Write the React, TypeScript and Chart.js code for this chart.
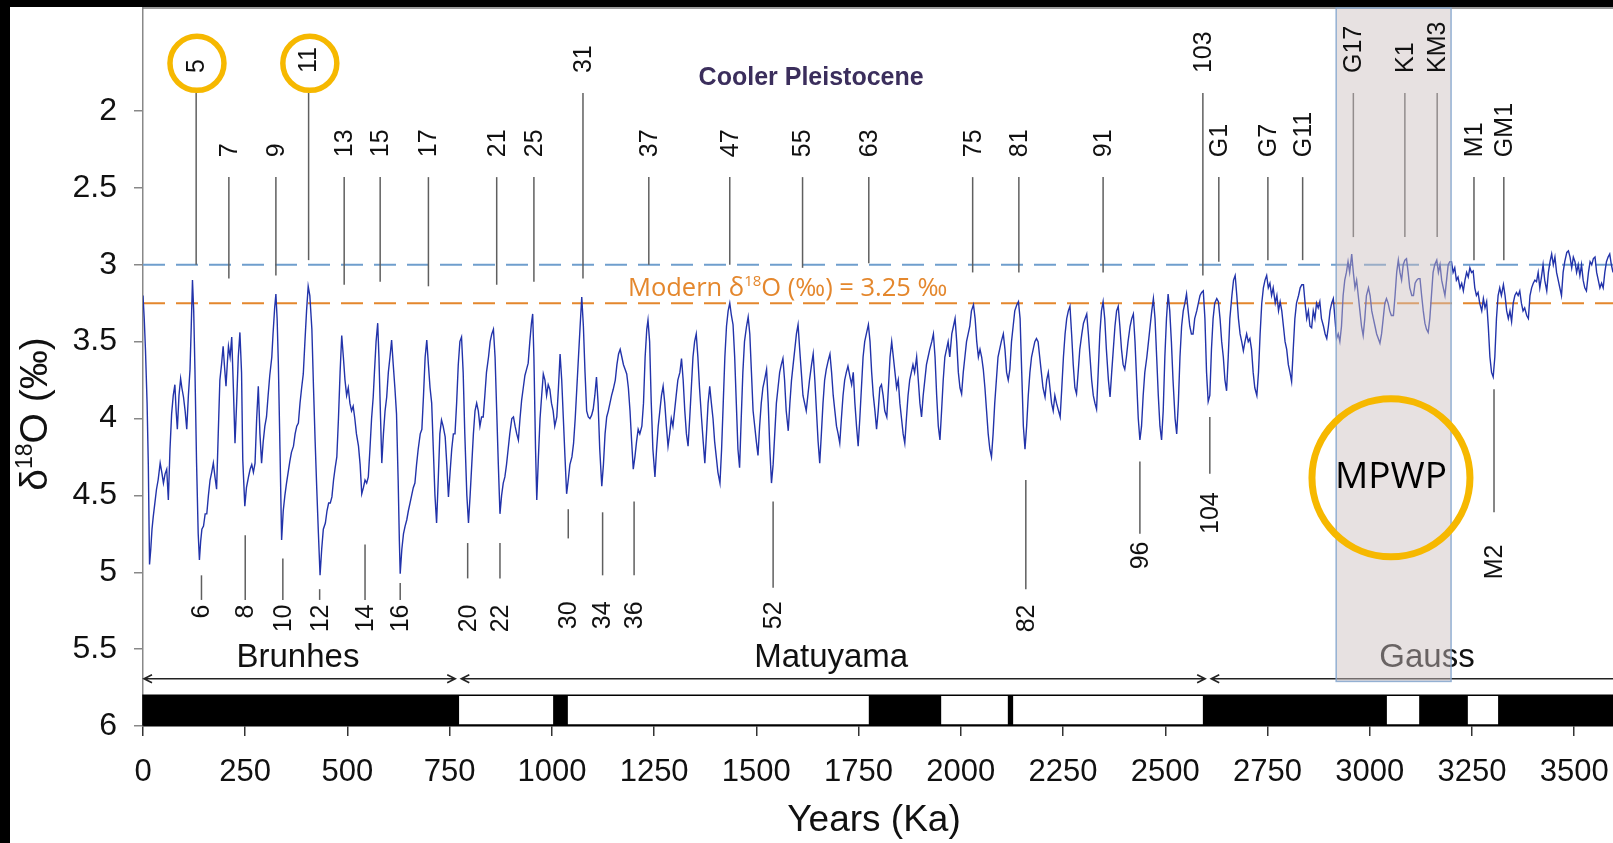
import React, { useEffect, useRef } from 'react';
import { Chart, registerables } from 'chart.js';

Chart.register(...registerables);

const FONT = "'Liberation Sans', Arial, Helvetica, sans-serif";
const FONT_C = "'Open Sans', Lato, 'Liberation Sans', sans-serif";

const xTickValues = [0, 250, 500, 750, 1000, 1250, 1500, 1750, 2000, 2250, 2500, 2750, 3000, 3250, 3500];
const yTickValues = [2, 2.5, 3, 3.5, 4, 4.5, 5, 5.5, 6];
const X_MAX = 3595;
const Y_TOP = 1.33;
const Y_BOTTOM = 6.0;

// Benthic δ18O stack, [age ka, value ‰]
const brunhesSeries: [number, number][] = [
  [0,3.2],[3,3.35],[6,3.55],[10,3.9],[13,4.3],[16,4.95],[19,4.85],[22,4.72],[25,4.64],[29,4.55],[33,4.46],[37,4.4],[42,4.29],[46,4.35],[50,4.42],[54,4.36],[58,4.33],[62,4.53],[66,4.2],[70,3.97],[74,3.85],[78,3.78],[81,3.95],[84,4.07],[88,3.85],[92,3.74],[95,3.8],[99,3.86],[103,3.95],[107,4.07],[111,3.85],[115,3.68],[118,3.4],[121,3.1],[124,3.3],[127,3.68],[131,4.29],[135,4.75],[138,4.92],[141,4.8],[144,4.72],[148,4.7],[152,4.62],[156,4.62],[160,4.5],[164,4.4],[168,4.35],[172,4.29],[176,4.38],[180,4.46],[184,4.1],[188,3.75],[192,3.65],[196,3.53],[199,3.65],[203,3.79],[206,3.65],[209,3.53],[213,3.6],[217,3.47],[221,3.8],[225,4.16],[229,3.9],[233,3.6],[237,3.44],[241,3.7],[244,4.27],[249,4.57],[253,4.45],[258,4.38],[262,4.33],[266,4.3],[270,4.35],[274,4.29],[278,4.0],[282,3.79],[286,4.1],[290,4.29],[294,4.15],[298,4.05],[302,3.99],[306,3.85],[310,3.72],[315,3.6],[318,3.45],[322,3.28],[325,3.19],[328,3.35],[331,3.64],[335,4.2],[339,4.79],[343,4.6],[347,4.5],[351,4.42],[355,4.35],[359,4.28],[363,4.22],[368,4.18],[372,4.1],[376,4.05],[380,4.03],[384,3.9],[388,3.8],[392,3.71],[396,3.5],[400,3.3],[404,3.14],[408,3.2],[413,3.42],[417,3.8],[421,4.15],[425,4.46],[429,4.75],[433,5.02],[437,4.85],[441,4.72],[446,4.68],[450,4.6],[454,4.55],[458,4.55],[462,4.51],[466,4.4],[470,4.32],[474,4.25],[478,4.0],[482,3.7],[486,3.46],[490,3.6],[494,3.75],[498,3.85],[502,3.8],[506,3.9],[510,3.95],[514,3.92],[518,4.0],[522,4.1],[527,4.18],[531,4.3],[535,4.49],[539,4.45],[543,4.4],[547,4.42],[551,4.38],[555,4.2],[559,4.0],[563,3.86],[566,3.7],[570,3.5],[574,3.38],[577,3.6],[581,4.0],[584,4.29],[588,4.1],[592,3.95],[596,3.86],[600,3.7],[604,3.6],[608,3.49],[612,3.65],[616,3.8],[620,3.97],[624,4.4],[627,4.8],[629,5.01],[633,4.85],[637,4.75],[641,4.7],[645,4.66],[649,4.6],[653,4.55],[657,4.5],[661,4.45],[665,4.42],[669,4.3],[673,4.2],[678,4.1],[682,4.07],[686,3.85],[690,3.6],[694,3.49],[698,3.65],[702,3.8],[706,3.9],[710,4.2],[714,4.5],[718,4.68],[722,4.4],[726,4.1],[730,4.01],[734,4.05],[739,4.12],[743,4.3],[747,4.51],[751,4.35],[755,4.2],[759,4.1],[763,4.1],[767,3.9],[771,3.65]
];

const matuyamaSeries: [number, number][] = [
  [775,3.5],[779,3.47],[783,3.7],[787,4.1],[792,4.5],[796,4.68],[800,4.5],[804,4.3],[808,4.1],[812,3.95],[816,3.9],[820,3.95],[824,4.05],[828,3.99],[832,3.99],[836,3.85],[840,3.7],[845,3.6],[849,3.5],[853,3.45],[857,3.42],[861,3.6],[865,3.95],[869,4.3],[873,4.62],[877,4.5],[881,4.42],[885,4.38],[889,4.3],[893,4.2],[897,4.1],[902,4.0],[906,3.99],[910,4.05],[914,4.1],[918,4.14],[922,4.0],[926,3.88],[930,3.8],[934,3.72],[938,3.68],[942,3.64],[946,3.5],[950,3.38],[953,3.32],[956,3.6],[960,4.2],[963,4.53],[967,4.25],[971,4.0],[975,3.85],[979,3.71],[983,3.75],[987,3.85],[991,3.78],[995,3.81],[999,3.9],[1003,3.95],[1007,4.05],[1012,3.99],[1016,3.8],[1020,3.58],[1024,3.75],[1028,4.0],[1032,4.25],[1036,4.49],[1040,4.4],[1044,4.3],[1049,4.25],[1053,4.16],[1057,4.0],[1061,3.8],[1065,3.6],[1069,3.4],[1073,3.21],[1077,3.4],[1081,3.7],[1085,3.95],[1089,3.99],[1093,4.0],[1097,3.98],[1101,3.94],[1105,3.85],[1109,3.73],[1113,3.9],[1117,4.2],[1122,4.44],[1126,4.3],[1130,4.1],[1134,3.99],[1138,3.95],[1142,3.9],[1146,3.85],[1150,3.81],[1155,3.75],[1159,3.65],[1163,3.58],[1167,3.55],[1171,3.6],[1175,3.65],[1179,3.68],[1183,3.71],[1187,3.8],[1191,3.95],[1195,4.15],[1199,4.33],[1203,4.25],[1207,4.15],[1211,4.07],[1215,4.1],[1220,4.05],[1224,3.9],[1228,3.6],[1232,3.42],[1235,3.36],[1239,3.5],[1243,3.9],[1247,4.2],[1252,4.38],[1256,4.2],[1260,4.05],[1264,3.95],[1268,3.85],[1272,3.79],[1276,3.9],[1280,4.05],[1284,4.18],[1288,4.1],[1292,4.0],[1296,4.05],[1300,3.95],[1304,3.85],[1308,3.75],[1313,3.7],[1317,3.61],[1321,3.75],[1325,3.95],[1329,4.1],[1333,4.18],[1337,4.0],[1341,3.8],[1345,3.6],[1349,3.5],[1353,3.45],[1357,3.6],[1361,3.8],[1366,4.0],[1370,4.15],[1374,4.29],[1378,4.1],[1382,3.9],[1386,3.79],[1390,3.9],[1394,4.0],[1398,4.15],[1402,4.25],[1406,4.35],[1411,4.42],[1415,4.2],[1419,3.9],[1423,3.6],[1427,3.4],[1431,3.3],[1435,3.25],[1439,3.33],[1443,3.39],[1447,3.6],[1451,3.9],[1455,4.2],[1459,4.32],[1463,4.0],[1467,3.7],[1471,3.5],[1476,3.4],[1480,3.34],[1484,3.45],[1488,3.7],[1492,3.95],[1496,4.05],[1500,4.15],[1504,4.24],[1508,4.05],[1512,3.9],[1516,3.8],[1520,3.75],[1525,3.68],[1529,3.9],[1533,4.2],[1537,4.42],[1541,4.3],[1545,4.1],[1549,3.9],[1553,3.8],[1557,3.7],[1561,3.65],[1565,3.61],[1569,3.75],[1573,3.95],[1578,4.08],[1582,3.9],[1586,3.75],[1590,3.65],[1594,3.55],[1598,3.45],[1602,3.39],[1606,3.55],[1610,3.7],[1614,3.85],[1618,3.9],[1622,3.95],[1626,3.85],[1630,3.75],[1635,3.65],[1639,3.58],[1643,3.75],[1647,3.95],[1651,4.15],[1655,4.29],[1659,4.1],[1663,3.9],[1667,3.75],[1671,3.68],[1676,3.62],[1680,3.58],[1684,3.7],[1688,3.85],[1692,3.95],[1696,4.05],[1700,4.1],[1704,4.16],[1708,4.0],[1712,3.85],[1716,3.75],[1720,3.7],[1724,3.66],
  [1729,3.73],[1733,3.78],[1737,3.7],[1741,3.9],[1745,4.05],[1749,4.18],[1753,4.0],[1757,3.8],[1761,3.6],[1765,3.5],[1769,3.45],[1774,3.39],[1778,3.5],[1782,3.7],[1786,3.85],[1790,3.95],[1794,4.07],[1798,3.95],[1802,3.8],[1806,3.78],[1810,3.85],[1814,3.95],[1819,3.99],[1823,3.8],[1827,3.6],[1831,3.5],[1835,3.6],[1839,3.7],[1843,3.8],[1847,3.75],[1851,3.9],[1855,4.0],[1859,4.1],[1863,4.16],[1867,4.0],[1871,3.85],[1875,3.75],[1879,3.7],[1883,3.65],[1887,3.7],[1892,3.6],[1896,3.75],[1900,3.9],[1904,3.99],[1908,3.85],[1912,3.75],[1916,3.65],[1920,3.6],[1924,3.55],[1929,3.5],[1933,3.45],[1937,3.6],[1941,3.85],[1945,4.05],[1949,4.14],[1953,3.95],[1957,3.75],[1961,3.6],[1965,3.55],[1969,3.5],[1973,3.6],[1978,3.45],[1982,3.4],[1986,3.35],[1990,3.5],[1994,3.7],[1998,3.8],[2002,3.84],[2006,3.7],[2010,3.6],[2014,3.5],[2018,3.45],[2022,3.4],[2026,3.3],[2031,3.26],[2035,3.35],[2039,3.5],[2043,3.6],[2047,3.55],[2051,3.6],[2055,3.68],[2059,3.8],[2063,3.95],[2067,4.1],[2071,4.2],[2075,4.25],[2079,4.1],[2083,3.9],[2087,3.75],[2091,3.6],[2095,3.55],[2099,3.5],[2104,3.45],[2108,3.55],[2112,3.7],[2116,3.75],[2120,3.68],[2124,3.5],[2128,3.4],[2132,3.3],[2137,3.26],[2141,3.24],[2145,3.35],[2149,3.7],[2153,4.05],[2157,4.2],[2161,4.05],[2165,3.85],[2169,3.7],[2173,3.6],[2177,3.55],[2181,3.5],[2185,3.48],[2189,3.5],[2193,3.6],[2197,3.7],[2201,3.8],[2206,3.86],[2210,3.75],[2214,3.7],[2218,3.8],[2222,3.9],[2226,3.95],[2230,3.85],[2234,3.9],[2239,3.95],[2243,3.99],[2247,3.8],[2251,3.6],[2255,3.45],[2259,3.35],[2263,3.3],[2267,3.27],[2271,3.45],[2275,3.65],[2279,3.8],[2283,3.84],[2287,3.7],[2291,3.55],[2296,3.45],[2300,3.38],[2304,3.35],[2308,3.32],[2312,3.45],[2316,3.6],[2320,3.75],[2324,3.85],[2328,3.9],[2332,3.94],[2336,3.7],[2340,3.45],[2344,3.3],[2348,3.24],[2352,3.35],[2356,3.55],[2361,3.75],[2365,3.86],[2369,3.7],[2373,3.55],[2377,3.4],[2381,3.3],[2385,3.27],[2389,3.4],[2393,3.55],[2397,3.65],[2401,3.68],[2405,3.6],[2409,3.5],[2414,3.4],[2418,3.35],[2422,3.32],[2426,3.5],[2430,3.75],[2434,4.0],[2438,4.14],[2442,4.05],[2446,3.85],[2450,3.7],[2455,3.6],[2459,3.5],[2463,3.4],[2467,3.3],[2471,3.22],[2475,3.35],[2479,3.6],[2483,3.85],[2487,4.05],[2491,4.14],[2495,3.95],[2499,3.6],[2503,3.35],[2507,3.19],[2511,3.3],[2515,3.5],[2519,3.75],[2524,4.0],[2528,4.1],[2532,3.9],[2536,3.6],[2540,3.4],[2544,3.3],[2548,3.25],[2552,3.19],[2556,3.3],[2560,3.4],[2564,3.45],[2568,3.45],[2572,3.35],[2577,3.3],[2581,3.25],[2585,3.2],[2589,3.18]
];

const gaussSeries: [number, number][] = [
  [2593,3.17],[2597,3.35],[2601,3.7],[2605,3.89],[2609,3.85],[2613,3.55],[2617,3.35],[2621,3.25],[2626,3.22],[2630,3.24],[2634,3.35],[2638,3.5],[2642,3.6],[2646,3.75],[2650,3.82],[2654,3.6],[2658,3.35],[2663,3.2],[2667,3.1],[2671,3.07],[2675,3.2],[2679,3.35],[2683,3.45],[2687,3.5],[2691,3.56],[2695,3.5],[2699,3.45],[2703,3.5],[2707,3.48],[2711,3.55],[2715,3.7],[2719,3.8],[2724,3.85],[2728,3.7],[2732,3.45],[2736,3.25],[2740,3.15],[2744,3.1],[2748,3.07],[2752,3.15],[2756,3.12],[2760,3.2],[2764,3.15],[2769,3.25],[2773,3.2],[2777,3.3],[2781,3.24],[2785,3.3],[2789,3.4],[2793,3.5],[2797,3.55],[2801,3.65],[2805,3.7],[2809,3.76],[2813,3.55],[2817,3.35],[2821,3.25],[2826,3.2],[2830,3.15],[2834,3.13],[2838,3.13],[2842,3.25],[2846,3.35],[2850,3.3],[2854,3.4],[2858,3.41],[2862,3.3],[2866,3.35],[2870,3.25],[2874,3.28],[2878,3.24],[2882,3.35],[2887,3.4],[2891,3.45],[2895,3.48],[2899,3.4],[2903,3.3],[2907,3.25],[2911,3.22],[2915,3.35],[2919,3.48],[2923,3.45],[2927,3.5],[2931,3.4],[2935,3.2],[2939,3.1],[2943,3.05],[2947,2.98],[2951,3.05],[2956,2.93],[2960,3.05],[2964,3.15],[2968,3.1],[2972,3.2],[2976,3.3],[2980,3.4],[2984,3.46],[2988,3.35],[2992,3.2],[2997,3.15],[3001,3.2],[3005,3.3],[3009,3.35],[3013,3.4],[3017,3.45],[3021,3.48],[3025,3.51],[3029,3.45],[3033,3.35],[3037,3.25],[3041,3.22],[3045,3.25],[3049,3.3],[3053,3.33],[3058,3.33],[3062,3.2],[3066,3.05],[3070,2.97],[3074,3.05],[3078,3.1],[3082,3.0],[3086,2.97],[3090,2.96],[3094,3.05],[3098,3.15],[3103,3.2],[3107,3.2],[3111,3.12],[3115,3.1],[3119,3.09],[3123,3.09],[3127,3.2],[3131,3.3],[3135,3.38],[3139,3.42],[3143,3.44],[3147,3.35],[3151,3.2],[3155,3.05],[3159,3.0],[3164,2.97],[3168,3.05],[3172,3.0],[3176,3.1],[3180,3.15],[3184,3.2],[3188,3.1],[3192,3.0],[3196,2.98],[3200,2.98],[3204,3.05],[3208,3.02],[3212,3.1],[3216,3.08],[3221,3.15],[3225,3.12],[3229,3.17],[3233,3.1],[3237,3.05],[3241,3.08],[3245,3.02],[3249,3.05],[3253,3.04],[3257,3.15],[3261,3.2],[3265,3.18],[3269,3.25],[3274,3.3],[3278,3.22],[3282,3.28],[3286,3.24],[3290,3.4],[3294,3.6],[3298,3.7],[3302,3.73],[3306,3.6],[3310,3.35],[3314,3.2],[3318,3.15],[3322,3.2],[3327,3.13],[3331,3.2],[3335,3.3],[3339,3.35],[3343,3.3],[3347,3.37],[3351,3.25],[3355,3.2],[3359,3.18],[3363,3.2],[3367,3.17],[3371,3.25],[3375,3.3],[3379,3.28],[3384,3.33],[3388,3.35],[3392,3.2],[3396,3.15],[3400,3.12],[3404,3.1],[3408,3.11],[3412,3.05],[3416,3.15],[3420,3.08],[3424,3.0],[3428,3.1],[3433,3.17],[3437,3.05],[3441,2.98],[3445,2.93],[3449,3.0],[3453,2.95],[3457,3.05],[3461,3.1],[3465,3.15],[3469,3.2],[3473,3.05],[3477,2.98],[3482,2.92],[3486,2.91],[3490,2.95],[3494,3.02],[3498,2.95],[3502,2.98],[3506,3.05],[3510,3.0],[3514,3.07],[3518,3.0],[3522,3.1],[3526,3.15],[3530,3.17],[3535,3.05],[3539,2.98],[3543,3.0],[3547,2.96],[3551,2.95],[3555,3.05],[3559,3.1],[3563,3.15],[3567,3.12],[3571,3.15],[3575,3.05],[3579,2.98],[3583,2.95],[3587,2.93],[3591,3.0],[3595,3.05],[3600,3.1]
];

// Reference lines
const thresholdValue = 3.0;
const modernValue = 3.25;

// Marine isotope stage labels
const highStageNames = ['5', '11', '31', '103', 'G17', 'K1', 'KM3'];
const highStageAges = [130, 405, 1076, 2592, 2960, 3086, 3165];
const highStageLineEnds = [3.0, 2.97, 3.09, 3.07, 2.82, 2.82, 2.82];
const highTextBase = 1.753;
const highLineTop = 1.883;

const midStageNames = ['7', '9', '13', '15', '17', '21', '25', '37', '47', '55', '63', '75', '81', '91', 'G1', 'G7', 'G11', 'M1', 'GM1'];
const midStageAges = [210, 325, 492, 580, 698, 865, 956, 1237, 1435, 1613, 1775, 2029, 2142, 2348, 2631, 2751, 2836, 3255, 3328];
const midStageLineEnds = [3.09, 3.07, 3.13, 3.11, 3.14, 3.13, 3.11, 3.0, 3.0, 3.02, 2.99, 3.05, 3.05, 3.05, 2.98, 2.97, 2.97, 2.97, 2.97];
const midTextBase = 2.3;
const midLineTop = 2.43;

const lowStageNames = ['6', '8', '10', '12', '14', '16', '20', '22', '30', '34', '36', '52', '82', '96', '104', 'M2'];
const lowStageAges = [143, 250, 342, 432, 543, 629, 794, 873, 1040, 1124, 1201, 1541, 2159, 2438, 2609, 3304];
const lowLineTops = [5.02, 4.76, 4.91, 5.11, 4.82, 5.07, 4.81, 4.81, 4.59, 4.61, 4.54, 4.54, 4.4, 4.28, 3.99, 3.81];
const lowLineBottoms = [5.18, 5.18, 5.18, 5.18, 5.18, 5.18, 5.04, 5.04, 4.78, 5.02, 5.02, 5.1, 5.11, 4.75, 4.36, 4.61];
const lowTextTops = [5.21, 5.21, 5.21, 5.21, 5.21, 5.21, 5.21, 5.21, 5.19, 5.19, 5.19, 5.19, 5.21, 4.8, 4.48, 4.82];

const circledStageAges = [132, 408];
const circledStageValue = 1.69;

// Magnetic polarity (normal = black)
const normalChrons: [number, number][] = [[0, 773], [1003, 1039], [1775, 1952], [2115, 2128], [2592, 3042], [3121, 3240], [3314, 3600]];
const polarityBarTop = 5.8;
const chronNames = ['Brunhes', 'Matuyama', 'Gauss'];
const chronCenters = [379, 1683, 3140];
const chronArrows: [number, number][] = [[0, 766], [776, 2600], [2610, 3600]];
const chronArrowValue = 5.693;
const chronTextValue = 5.557;

// Mid-Piacenzian Warm Period
const mpwpRange = [2918, 3199];
const mpwpBottomValue = 5.71;
const mpwpCenter = [3052, 4.386];

function App() {
  const ref = useRef<HTMLCanvasElement | null>(null);

  useEffect(() => {
    const canvas = ref.current;
    if (!canvas) return;
    const points = [...brunhesSeries, ...matuyamaSeries, ...gaussSeries].map(([a, v]) => ({ x: a, y: v }));

    const vText = (ctx: CanvasRenderingContext2D, text: string, px: number, py: number, align: CanvasTextAlign) => {
      ctx.save();
      ctx.translate(px, py);
      ctx.rotate(-Math.PI / 2);
      ctx.textAlign = align;
      ctx.textBaseline = 'middle';
      ctx.fillText(text, 0, 1);
      ctx.restore();
    };
    const vLine = (ctx: CanvasRenderingContext2D, px: number, y1: number, y2: number) => {
      ctx.beginPath();
      ctx.moveTo(px, y1);
      ctx.lineTo(px, y2);
      ctx.stroke();
    };
    const noPad = (s: any) => {
      s.paddingTop = 0;
      s.paddingBottom = 0;
      s.paddingLeft = 0;
      s.paddingRight = 0;
    };

    const plugin = {
      id: 'annotations',
      beforeDraw(chart: any) {
        const { ctx, width, height } = chart;
        ctx.save();
        ctx.fillStyle = '#ffffff';
        ctx.fillRect(0, 0, width, height);
        ctx.restore();
      },
      beforeDatasetsDraw(chart: any) {
        const { ctx, chartArea: a, scales } = chart;
        const x = scales.x, y = scales.y;
        ctx.save();
        ctx.strokeStyle = '#7a7a7a';
        ctx.lineWidth = 1.5;
        ctx.beginPath();
        ctx.moveTo(a.left, a.top);
        ctx.lineTo(a.right, a.top);
        ctx.stroke();

        ctx.lineWidth = 2;
        ctx.setLineDash([22, 11]);
        ctx.strokeStyle = '#6f9ecd';
        const yb = y.getPixelForValue(thresholdValue);
        ctx.beginPath(); ctx.moveTo(a.left, yb); ctx.lineTo(a.right, yb); ctx.stroke();
        ctx.strokeStyle = '#e4872d';
        const yo = y.getPixelForValue(modernValue);
        ctx.beginPath(); ctx.moveTo(a.left, yo); ctx.lineTo(a.right, yo); ctx.stroke();
        ctx.setLineDash([]);

        // Modern label
        ctx.fillStyle = '#e4872d';
        ctx.textBaseline = 'alphabetic';
        ctx.textAlign = 'left';
        let tx = x.getPixelForValue(1186);
        const ty = y.getPixelForValue(3.2);
        ctx.font = `25.5px ${FONT_C}`;
        ctx.fillText('Modern δ', tx, ty);
        tx += ctx.measureText('Modern δ').width;
        ctx.font = `15px ${FONT_C}`;
        ctx.fillText('18', tx, ty - 10);
        tx += ctx.measureText('18').width;
        ctx.font = `25.5px ${FONT_C}`;
        ctx.fillText('O (‰) = 3.25 ‰', tx, ty);
        ctx.restore();
      },
      afterDatasetsDraw(chart: any) {
        const { ctx, chartArea: a, scales } = chart;
        const x = scales.x, y = scales.y;
        ctx.save();

        // stage marker lines
        ctx.strokeStyle = '#5f5f5f';
        ctx.lineWidth = 1.5;
        highStageNames.forEach((_, i) => {
          const px = x.getPixelForValue(highStageAges[i]);
          vLine(ctx, px, y.getPixelForValue(highLineTop), y.getPixelForValue(highStageLineEnds[i]));
        });
        midStageNames.forEach((_, i) => {
          const px = x.getPixelForValue(midStageAges[i]);
          vLine(ctx, px, y.getPixelForValue(midLineTop), y.getPixelForValue(midStageLineEnds[i]));
        });
        lowStageNames.forEach((_, i) => {
          const px = x.getPixelForValue(lowStageAges[i]);
          vLine(ctx, px, y.getPixelForValue(lowLineTops[i]), y.getPixelForValue(lowLineBottoms[i]));
        });

        // Cooler Pleistocene
        ctx.fillStyle = '#3b2e5c';
        ctx.font = `bold 25px ${FONT}`;
        ctx.textAlign = 'center';
        ctx.textBaseline = 'middle';
        ctx.fillText('Cooler Pleistocene', x.getPixelForValue(1634), y.getPixelForValue(1.785));

        // polarity bar
        const bt = y.getPixelForValue(polarityBarTop);
        const bb = y.getPixelForValue(Y_BOTTOM) - 1;
        ctx.fillStyle = '#fff';
        ctx.fillRect(a.left, bt, a.right - a.left, bb - bt);
        ctx.fillStyle = '#000';
        normalChrons.forEach(([s, e]) => {
          const x1 = x.getPixelForValue(s);
          const x2 = Math.min(x.getPixelForValue(e), a.right);
          ctx.fillRect(x1, bt, x2 - x1, bb - bt);
        });
        ctx.strokeStyle = '#000';
        ctx.lineWidth = 1.5;
        ctx.strokeRect(a.left, bt, a.right - a.left + 2, bb - bt);

        // chron arrows
        const ay = y.getPixelForValue(chronArrowValue);
        ctx.strokeStyle = '#222';
        ctx.lineWidth = 1.6;
        chronArrows.forEach(([s, e]) => {
          const x1 = x.getPixelForValue(s) + 1;
          const x2 = x.getPixelForValue(e) - 1;
          ctx.beginPath();
          ctx.moveTo(x1, ay); ctx.lineTo(x2, ay);
          ctx.moveTo(x1 + 8, ay - 4); ctx.lineTo(x1, ay); ctx.lineTo(x1 + 8, ay + 4);
          if (e < X_MAX) { ctx.moveTo(x2 - 8, ay - 4); ctx.lineTo(x2, ay); ctx.lineTo(x2 - 8, ay + 4); }
          ctx.stroke();
        });
        ctx.fillStyle = '#111';
        ctx.font = `33px ${FONT}`;
        ctx.textAlign = 'center';
        ctx.textBaseline = 'middle';
        chronNames.forEach((n, i) => {
          ctx.fillText(n, x.getPixelForValue(chronCenters[i]), y.getPixelForValue(chronTextValue));
        });

        // MPWP shading
        const mx1 = x.getPixelForValue(mpwpRange[0]);
        const mx2 = x.getPixelForValue(mpwpRange[1]);
        const my2 = y.getPixelForValue(mpwpBottomValue);
        ctx.fillStyle = 'rgba(205,192,192,0.47)';
        ctx.fillRect(mx1, a.top, mx2 - mx1, my2 - a.top);
        ctx.strokeStyle = 'rgba(130,165,205,0.85)';
        ctx.lineWidth = 1.5;
        ctx.strokeRect(mx1, a.top, mx2 - mx1, my2 - a.top);

        // stage marker texts
        ctx.fillStyle = '#111';
        ctx.font = `25px ${FONT}`;
        highStageNames.forEach((n, i) => {
          vText(ctx, n, x.getPixelForValue(highStageAges[i]), y.getPixelForValue(highTextBase), 'left');
        });
        midStageNames.forEach((n, i) => {
          vText(ctx, n, x.getPixelForValue(midStageAges[i]), y.getPixelForValue(midTextBase), 'left');
        });
        lowStageNames.forEach((n, i) => {
          vText(ctx, n, x.getPixelForValue(lowStageAges[i]), y.getPixelForValue(lowTextTops[i]), 'right');
        });

        ctx.fillStyle = '#000';
        ctx.font = `37px ${FONT_C}`;
        ctx.textAlign = 'center';
        ctx.textBaseline = 'middle';
        const cx = x.getPixelForValue(mpwpCenter[0]);
        const cy = y.getPixelForValue(mpwpCenter[1]);
        ctx.fillText('MPWP', cx, cy);

        // circles
        ctx.strokeStyle = '#f6b800';
        ctx.lineWidth = 7;
        ctx.beginPath();
        ctx.arc(cx, cy, 79, 0, Math.PI * 2);
        ctx.stroke();
        ctx.lineWidth = 5.5;
        circledStageAges.forEach((ag) => {
          ctx.beginPath();
          ctx.arc(x.getPixelForValue(ag), y.getPixelForValue(circledStageValue), 27, 0, Math.PI * 2);
          ctx.stroke();
        });
        ctx.restore();
      },
      afterDraw(chart: any) {
        const { ctx, width, height } = chart;
        ctx.save();
        // axis titles
        ctx.fillStyle = '#111';
        ctx.textBaseline = 'alphabetic';
        ctx.textAlign = 'left';
        ctx.font = `37px ${FONT}`;
        const xt = 'Years (Ka)';
        const xw = ctx.measureText(xt).width;
        ctx.fillText(xt, 874 - xw / 2, 831);

        ctx.translate(47, 414);
        ctx.rotate(-Math.PI / 2);
        const big = `39px ${FONT}`;
        const small = `23px ${FONT}`;
        ctx.font = big;
        const w1 = ctx.measureText('δ').width;
        const w3 = ctx.measureText('O (‰)').width;
        ctx.font = small;
        const w2 = ctx.measureText('18').width;
        let sx = -(w1 + w2 + w3) / 2;
        ctx.font = big;
        ctx.fillText('δ', sx, 0);
        sx += w1;
        ctx.font = small;
        ctx.fillText('18', sx, -15);
        sx += w2;
        ctx.font = big;
        ctx.fillText('O (‰)', sx, 0);
        ctx.restore();

        ctx.save();
        ctx.fillStyle = '#000';
        ctx.fillRect(0, 0, width, 7);
        ctx.fillRect(0, 0, 10, height);
        ctx.restore();
      },
    };

    const chart = new Chart(canvas, {
      type: 'line',
      data: {
        datasets: [
          {
            data: points,
            borderColor: '#2233aa',
            borderWidth: 1.4,
            pointRadius: 0,
            tension: 0,
            fill: false,
          },
        ],
      },
      options: {
        animation: false,
        responsive: false,
        maintainAspectRatio: false,
        parsing: false,
        layout: { padding: { top: 8, left: 0, right: 0, bottom: 0 } },
        plugins: { legend: { display: false }, tooltip: { enabled: false }, title: { display: false } },
        scales: {
          x: {
            type: 'linear',
            min: 0,
            max: X_MAX,
            afterBuildTicks: (s: any) => { s.ticks = xTickValues.map((v) => ({ value: v })); },
            afterFit: (s: any) => { s.height = 117; noPad(s); },
            grid: { drawOnChartArea: false, drawTicks: true, tickLength: 10, color: '#333', lineWidth: 1.5 },
            border: { display: true, color: '#000', width: 1.5 },
            ticks: {
              color: '#111',
              font: { family: FONT, size: 31 },
              padding: 18,
              maxRotation: 0,
              autoSkip: false,
              callback: (v: any) => `${v}`,
            },
          },
          y: {
            type: 'linear',
            reverse: true,
            min: Y_TOP,
            max: Y_BOTTOM,
            afterBuildTicks: (s: any) => { s.ticks = yTickValues.map((v) => ({ value: v })); },
            afterFit: (s: any) => { s.width = 143; noPad(s); },
            grid: { drawOnChartArea: false, drawTicks: true, tickLength: 9, color: '#888', lineWidth: 1.5 },
            border: { display: true, color: '#888', width: 1.5 },
            ticks: {
              color: '#111',
              font: { family: FONT, size: 32 },
              padding: 17,
              autoSkip: false,
              callback: (v: any) => `${v}`,
            },
          },
        },
      },
      plugins: [plugin],
    } as any);

    return () => chart.destroy();
  }, []);

  return (
    <div style={{ position: 'fixed', left: 0, top: 0, width: 1613, height: 843, background: '#fff' }}>
      <canvas ref={ref} width={1613} height={843} style={{ display: 'block', width: 1613, height: 843 }} />
    </div>
  );
}

export default App;
